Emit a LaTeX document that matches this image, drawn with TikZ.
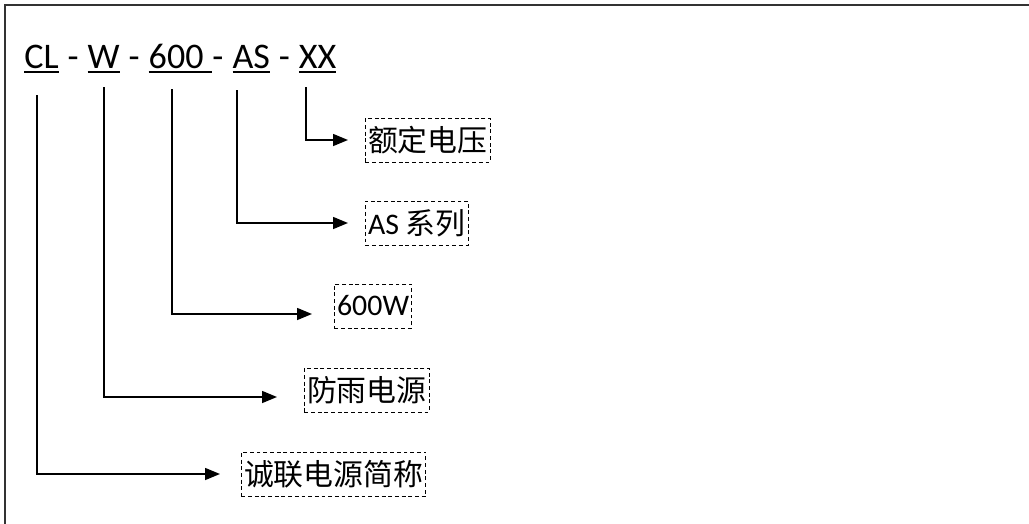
\documentclass[tikz,border=0pt]{standalone}
\usepackage{fontspec}
\setmainfont{Carlito}
\newfontfamily\cjk{Noto Sans CJK SC}
\usetikzlibrary{positioning,arrows.meta}
\newcommand{\gap}{\kern0.23em}
\newcommand{\codeline}[1]{\setbox0\hbox{#1}\rlap{\rule[-2.2pt]{\wd0}{0.8pt}}\box0}
\tikzset{
  frame/.style={draw=black!80, line width=0.85pt},
  part/.style={inner sep=0pt, font=\fontsize{20.5}{24}\selectfont, text height=0.5cm, text depth=0.12cm},
  tagbox/.style={draw, dash pattern=on 2.2pt off 1.6pt, line width=0.5pt, inner xsep=1.5pt, inner ysep=0pt, minimum height=0.88cm, font=\fontsize{17}{20}\selectfont, anchor=west},
  link/.style={-{Triangle[length=0.3cm,width=0.24cm]}, line width=0.85pt},
}

\begin{document}
\begin{tikzpicture}[x=0.02cm, y=-0.02cm]
\useasboundingbox (0,0) rectangle (1029,524);
%Frame
\draw[frame] (5,524) -- (5,5) -- (1029,5);

%Code
\node[part, anchor=base west] (cl) at (24,69) {\codeline{CL}};
\node[part, right=0pt of cl] (s1) {\gap-\gap};
\node[part, right=0pt of s1] (w) {\codeline{W}};
\node[part, right=0pt of w] (s2) {\gap-\gap};
\node[part, right=0pt of s2] (pw) {\codeline{600\gap}};
\node[part, right=0pt of pw] (s3) {-\gap};
\node[part, right=0pt of s3] (as) {\codeline{AS}};
\node[part, right=0pt of as] (s4) {\gap-\gap};
\node[part, right=0pt of s4] (xx) {\codeline{XX}};

%Labels
\node[tagbox] (volt) at (365,140) {\cjk 额定电压};
\node[tagbox] (series) at (365,223) {AS \cjk 系列};
\node[tagbox] (power) at (334,306) {600W};
\node[tagbox] (rain) at (304,390) {\cjk 防雨电源};
\node[tagbox] (brand) at (241,474) {\cjk 诚联电源简称};

%Lines
\coordinate (xx-top) at (306,87);
\coordinate (as-top) at (237,90);
\coordinate (pw-top) at (172,89);
\coordinate (w-top) at (104,87);
\coordinate (cl-top) at (37,95);
\draw[link, shorten >=0.34cm] (xx-top) |- (volt);
\draw[link, shorten >=0.34cm] (as-top) |- (series);
\draw[link, shorten >=0.44cm] (pw-top) |- ([yshift=-0.16cm]power.west);
\draw[link, shorten >=0.54cm] (w-top) |- ([yshift=-0.14cm]rain.west);
\draw[link, shorten >=0.42cm] (cl-top) |- (brand);
\end{tikzpicture}
\end{document}
